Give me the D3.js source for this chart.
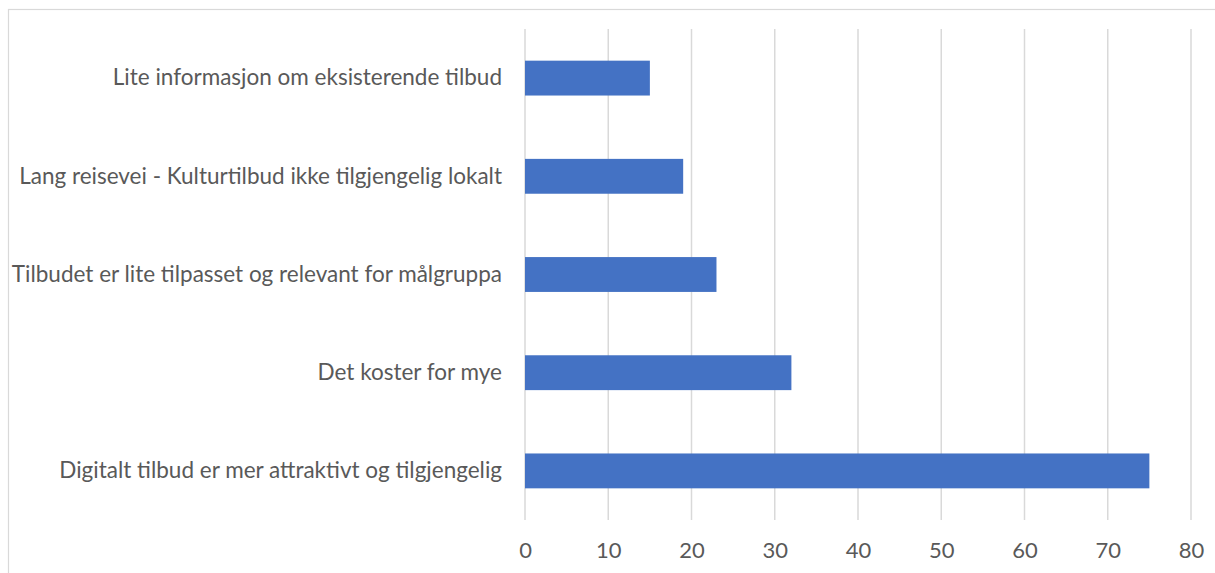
<!DOCTYPE html>
<head>
  <meta charset="utf-8">
  <script src="https://d3js.org/d3.v7.min.js"></script>
  <style>
    body { margin: 0; background: #fff; }
    text { font-family: Lato, "Open Sans", sans-serif; fill: #595959; }
    .grid line { stroke: #d9d9d9; stroke-width: 1.5px; }
  </style>
</head>
<body>
  <script>
    var categories = [
      "Lite informasjon om eksisterende tilbud",
      "Lang reisevei - Kulturtilbud ikke tilgjengelig lokalt",
      "Tilbudet er lite tilpasset og relevant for målgruppa",
      "Det koster for mye",
      "Digitalt tilbud er mer attraktivt og tilgjengelig"
    ];
    var values = [15, 19, 23, 32, 75];
    var xTicks = [0, 10, 20, 30, 40, 50, 60, 70, 80];

    var width = 1215, height = 573;
    var margin = { top: 29, right: 24, bottom: 53, left: 525 };

    var svg = d3.select("body").append("svg")
      .attr("width", width)
      .attr("height", height);

    // chart frame (cut off right and bottom)
    svg.append("rect")
      .attr("x", 8.5).attr("y", 9.5)
      .attr("width", width + 20).attr("height", height + 20)
      .attr("fill", "none")
      .attr("stroke", "#d9d9d9")
      .attr("stroke-width", 1.2);

    var x = d3.scaleLinear()
      .domain([0, 80])
      .range([margin.left, width - margin.right]);

    var y = d3.scaleBand()
      .domain(categories)
      .range([margin.top, height - margin.bottom])
      .paddingInner(0.645)
      .paddingOuter(0.3225);

    svg.append("g")
      .attr("class", "grid")
      .selectAll("line")
      .data(xTicks)
      .enter().append("line")
      .attr("x1", function(d) { return x(d); })
      .attr("x2", function(d) { return x(d); })
      .attr("y1", margin.top)
      .attr("y2", height - margin.bottom);

    svg.append("g")
      .selectAll("rect")
      .data(values)
      .enter().append("rect")
      .attr("x", x(0))
      .attr("y", function(d, i) { return y(categories[i]); })
      .attr("width", function(d) { return x(d) - x(0); })
      .attr("height", y.bandwidth())
      .attr("fill", "#4472c4");

    var xAxis = svg.append("g")
      .attr("transform", "translate(0," + (height - margin.bottom) + ")")
      .call(d3.axisBottom(x).tickValues(xTicks).tickSize(0).tickPadding(22));
    xAxis.select(".domain").remove();
    xAxis.selectAll("text")
      .style("font-size", "22px")
      .attr("fill", "#595959");

    var yAxis = svg.append("g")
      .attr("transform", "translate(" + (margin.left - 23) + ",0)")
      .call(d3.axisLeft(y).tickSize(0).tickPadding(0));
    yAxis.select(".domain").remove();
    yAxis.selectAll("text")
      .style("font-size", "22.5px")
      .attr("fill", "#595959");
  </script>
</body>
